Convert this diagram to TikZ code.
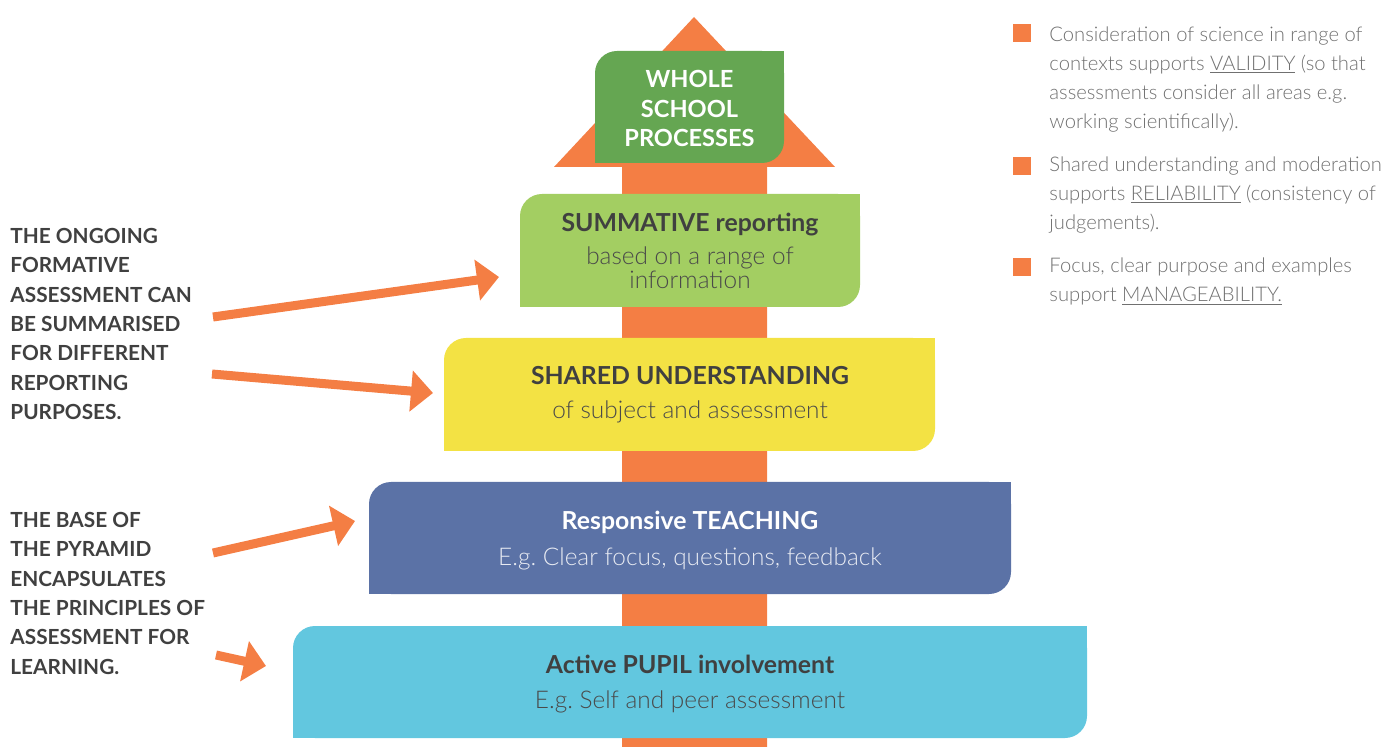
\documentclass[tikz,border=0pt]{standalone}
\usepackage{fontspec}
\setmainfont{Lato}
\newfontfamily\lightfont{Lato Light}
\usetikzlibrary{arrows.meta}

\definecolor{arroworange}{HTML}{F47E44}
\definecolor{wholegreen}{HTML}{65A652}
\definecolor{summgreen}{HTML}{A3CE62}
\definecolor{sharedyellow}{HTML}{F3E244}
\definecolor{teachblue}{HTML}{5B72A6}
\definecolor{pupilcyan}{HTML}{62C7DF}
\definecolor{darktext}{HTML}{404040}
\definecolor{subgrey}{HTML}{4A4A4A}
\definecolor{legendgrey}{HTML}{707070}

\tikzset{
  tile/.style={rectangle, inner sep=0pt, rounded corners=11pt},
  head/.style={inner sep=0pt, anchor=base, text=darktext, font=\bfseries\fontsize{12.4}{14}\selectfont},
  sub/.style={inner sep=0pt, anchor=base, text=subgrey, font=\lightfont\fontsize{12.2}{14}\selectfont},
  side/.style={inner sep=0pt, anchor=north west, align=left, text=darktext, font=\bfseries\fontsize{10.4}{14.65}\selectfont},
  legend/.style={inner sep=0pt, anchor=north west, align=left, text=legendgrey, font=\lightfont\fontsize{10.1}{14.5}\selectfont},
  bullet/.style={rectangle, inner sep=0pt, fill=arroworange, minimum size=9pt},
  pointer/.style={draw=arroworange, line width=4.5pt, -{Triangle[width=20pt,length=11pt]}}
}

\begin{document}
\begin{tikzpicture}[x=0.5pt, y=-0.5pt]
  \useasboundingbox (0,0) rectangle (1395,747);

  \fill[arroworange] (622,747) -- (622,167) -- (554,167) -- (694,17) -- (835,167) -- (767,167) -- (767,747) -- cycle;

  \node (whole) at (689.5,107) [tile, fill=wholegreen, minimum width=94.5pt, minimum height=56pt] {};
  \node (summ) at (690,250.5) [tile, fill=summgreen, minimum width=170pt, minimum height=56.5pt] {};
  \node (shared) at (689.5,394.5) [tile, fill=sharedyellow, minimum width=245.5pt, minimum height=56.5pt] {};
  \node (teach) at (690,538) [tile, fill=teachblue, minimum width=321pt, minimum height=56pt] {};
  \node (pupil) at (690,682) [tile, fill=pupilcyan, minimum width=397pt, minimum height=56pt] {};
  \foreach \n/\c in {whole/wholegreen, summ/summgreen, shared/sharedyellow, teach/teachblue, pupil/pupilcyan} {
    \fill[\c] (\n.north east) rectangle ++(-24,24);
    \fill[\c] (\n.south west) rectangle ++(24,-24);
  }

  \node (wholetxt) at (689.5,70) [inner sep=0pt, anchor=north, align=center, text=white, font=\bfseries\fontsize{11.8}{14.75}\selectfont] {WHOLE\\SCHOOL\\PROCESSES};

  \node (summhead) at (690,232) [head] {SUMMATIVE reporting};
  \node (summsub1) at (690,265) [sub] {based on a range of};
  \node (summsub2) at (690,289) [sub] {information};

  \node (sharedhead) at (690,385) [head] {SHARED UNDERSTANDING};
  \node (sharedsub) at (690,419) [sub] {of subject and assessment};

  \node (teachhead) at (690,530) [head, text=white] {Responsive TEACHING};
  \node (teachsub) at (690,565) [sub, text=white!85!teachblue] {E.g.\ Clear focus, questions, feedback};

  \node (pupilhead) at (690,673) [head] {Active PUPIL involvement};
  \node (pupilsub) at (690,708) [sub] {E.g.\ Self and peer assessment};

  \node (ongoing) at (10,228) [side] {THE ONGOING\\FORMATIVE\\ASSESSMENT CAN\\BE SUMMARISED\\FOR DIFFERENT\\REPORTING\\PURPOSES.};
  \node (base) at (10,512) [side] {THE BASE OF\\THE PYRAMID\\ENCAPSULATES\\THE PRINCIPLES OF\\ASSESSMENT FOR\\LEARNING.};

  \coordinate (f1) at (213,317);
  \coordinate (f2) at (212,374);
  \coordinate (b1) at (213,553);
  \coordinate (b2) at (216,655);
  \coordinate (t1) at (499,277);
  \coordinate (t2) at (433,393);
  \coordinate (t3) at (355,521);
  \coordinate (t4) at (266,666);
  \draw[pointer] (f1) -- (t1);
  \draw[pointer] (f2) -- (t2);
  \draw[pointer] (b1) -- (t3);
  \draw[pointer] (b2) -- (t4);

  \node (sq1) at (1022,33) [bullet] {};
  \node (sq2) at (1022,166) [bullet] {};
  \node (sq3) at (1022,267) [bullet] {};
  \node (validity) at (1049,26) [legend] {Consideration of science in range of\\contexts supports \underline{VALIDITY} (so that\\assessments consider all areas e.g.\\working scientifically).};
  \node (reliability) at (1049,156) [legend] {Shared understanding and moderation\\supports \underline{RELIABILITY} (consistency of\\judgements).};
  \node (manage) at (1049,257) [legend] {Focus, clear purpose and examples\\support \underline{MANAGEABILITY.}};
\end{tikzpicture}
\end{document}
